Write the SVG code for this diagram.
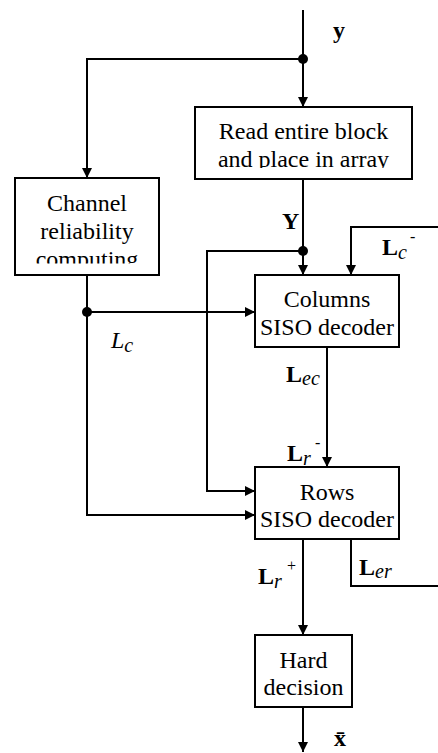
<svg xmlns="http://www.w3.org/2000/svg" width="438" height="753" viewBox="0 0 438 753">
<style>
text{font-family:'Liberation Serif','Times New Roman','DejaVu Serif',serif}
.box{fill:#fff;stroke:#000;stroke-width:2}
.t{font-size:24px;text-anchor:middle;fill:#000}
.lbl{font-size:24px;font-weight:bold;fill:#000}
.it{font-size:24px;font-style:italic;fill:#000}
.sub{font-style:italic;font-weight:normal;font-size:20px}
.sup{font-weight:normal;font-style:normal;font-size:16px}
.w{fill:none;stroke:#000;stroke-width:2}
.arr{marker-end:url(#ah)}
</style>
<defs>
<marker id="ah" markerUnits="userSpaceOnUse" markerWidth="10" markerHeight="10" refX="10" refY="5" orient="auto" viewBox="0 0 10 10">
<path d="M0,0 L10,5 L0,10 z" fill="#000"/>
</marker>
<clipPath id="cRead"><rect x="195" y="107" width="217" height="61"/></clipPath>
<clipPath id="cChan"><rect x="15" y="178" width="144" height="85.5"/></clipPath>
</defs>
<g id="connectors">
<path class="w arr" d="M303,10 V107"/>
<path class="w arr" d="M303,59 H87 V178"/>
<path class="w arr" d="M303,179 V275"/>
<path class="w arr" d="M303,251 H207 V491 H255"/>
<path class="w arr" d="M87,275 V515 H255"/>
<path class="w arr" d="M87,312 H255"/>
<path class="w arr" d="M438,227 H351 V275"/>
<path class="w arr" d="M327,347 V467"/>
<path class="w arr" d="M303,539 V635"/>
<path class="w" d="M351,539 V586 H438"/>
<path class="w arr" d="M303,707 V752"/>
<circle cx="303" cy="59" r="5" fill="#000"/>
<circle cx="303" cy="251" r="5" fill="#000"/>
<circle cx="87" cy="312" r="5" fill="#000"/>
</g>
<g id="read">
<rect class="box" x="195" y="107" width="217" height="72"/>
<g clip-path="url(#cRead)">
<text class="t" x="303.5" y="139">Read entire block</text>
<text class="t" x="303.5" y="167">and place in array</text>
</g>
</g>
<g id="channel">
<rect class="box" x="15" y="178" width="144" height="97"/>
<g clip-path="url(#cChan)">
<text class="t" x="87" y="211">Channel</text>
<text class="t" x="87" y="239">reliability</text>
<text class="t" x="87" y="267">computing</text>
</g>
</g>
<g id="columns">
<rect class="box" x="255" y="275" width="144" height="72"/>
<text class="t" x="327" y="307">Columns</text>
<text class="t" x="327" y="335">SISO decoder</text>
</g>
<g id="rows">
<rect class="box" x="255" y="467" width="144" height="72"/>
<text class="t" x="327" y="500">Rows</text>
<text class="t" x="327" y="527">SISO decoder</text>
</g>
<g id="hard">
<rect class="box" x="255" y="635" width="97" height="72"/>
<text class="t" x="303.5" y="668">Hard</text>
<text class="t" x="303.5" y="695">decision</text>
</g>
<g id="labels">
<text class="lbl" x="333" y="38">y</text>
<text class="lbl" x="282" y="229">Y</text>
<text class="lbl" x="382" y="255">L<tspan class="sub" dy="4">c</tspan><tspan class="sup" x="410" dy="-17">-</tspan></text>
<text class="lbl" x="286" y="382">L<tspan class="sub" dy="3">ec</tspan></text>
<text class="lbl" x="287" y="461">L<tspan class="sub" dy="4">r</tspan><tspan class="sup" x="315" dy="-17">-</tspan></text>
<text class="lbl" x="258" y="584">L<tspan class="sub" dy="4">r</tspan><tspan class="sup" x="287" dy="-17">+</tspan></text>
<text class="lbl" x="359" y="575">L<tspan class="sub" dy="3">er</tspan></text>
<text class="it" x="111" y="348">L<tspan dy="4" font-size="20">c</tspan></text>
<text class="lbl" x="334" y="746">x̄</text>
</g>
</svg>
